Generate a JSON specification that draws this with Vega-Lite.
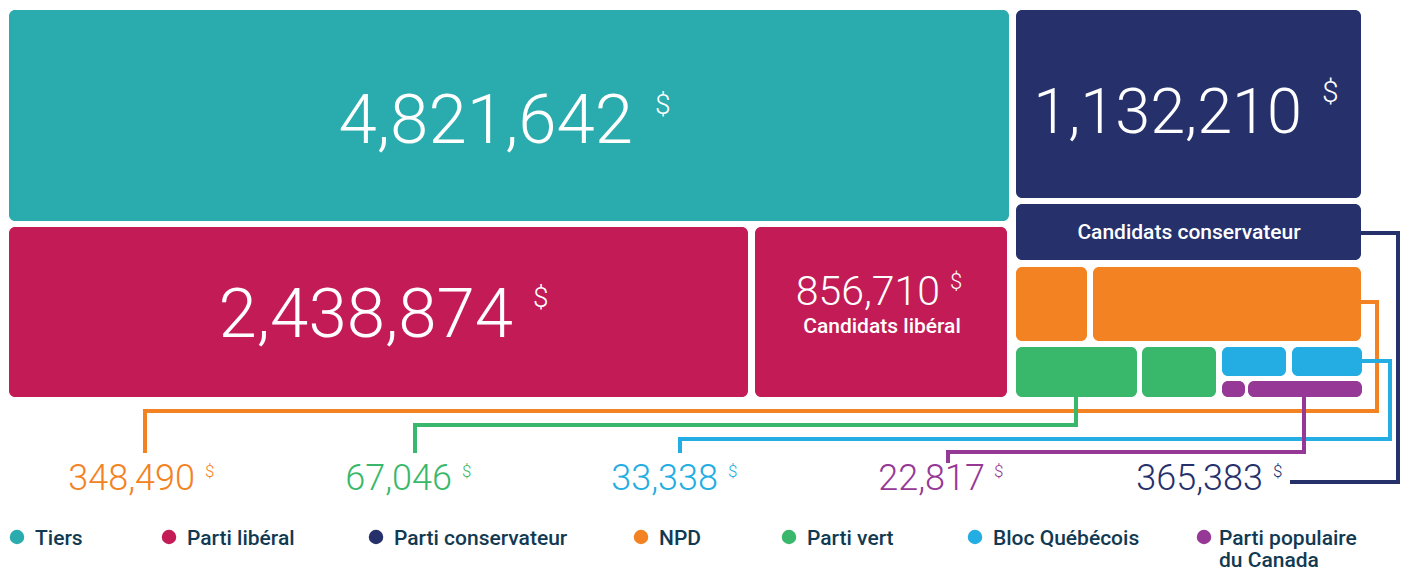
{
  "$schema": "https://vega.github.io/schema/vega-lite/v6.json",
  "width": 1410,
  "height": 570,
  "autosize": "none",
  "padding": 0,
  "background": "white",
  "config": {"view": {"stroke": null}, "axis": null},
  "datasets": {
    "boxes": [
      {"party": "Tiers", "x": 9, "x2": 1009, "y": 10, "y2": 221},
      {"party": "Parti libéral", "x": 9, "x2": 748, "y": 227, "y2": 397},
      {"party": "Parti libéral", "x": 755, "x2": 1007, "y": 227, "y2": 397},
      {"party": "Parti conservateur", "x": 1016, "x2": 1361, "y": 10, "y2": 198},
      {"party": "Parti conservateur", "x": 1016, "x2": 1361, "y": 204, "y2": 260},
      {"party": "NPD", "x": 1016, "x2": 1087, "y": 267, "y2": 341},
      {"party": "NPD", "x": 1093, "x2": 1361, "y": 267, "y2": 341},
      {"party": "Parti vert", "x": 1016, "x2": 1137, "y": 347, "y2": 397},
      {"party": "Parti vert", "x": 1142, "x2": 1216, "y": 347, "y2": 397},
      {"party": "Bloc Québécois", "x": 1222, "x2": 1286, "y": 347, "y2": 376},
      {"party": "Bloc Québécois", "x": 1292, "x2": 1362, "y": 347, "y2": 376},
      {"party": "Parti populaire du Canada", "x": 1222, "x2": 1245, "y": 381, "y2": 397},
      {"party": "Parti populaire du Canada", "x": 1248, "x2": 1362, "y": 381, "y2": 397}
    ],
    "links": [
      {"party": "Parti conservateur", "i": 1, "x": 1361, "y": 233},
      {"party": "Parti conservateur", "i": 2, "x": 1398, "y": 233},
      {"party": "Parti conservateur", "i": 3, "x": 1398, "y": 482},
      {"party": "Parti conservateur", "i": 4, "x": 1290, "y": 482},
      {"party": "NPD", "i": 1, "x": 1361, "y": 302},
      {"party": "NPD", "i": 2, "x": 1377, "y": 302},
      {"party": "NPD", "i": 3, "x": 1377, "y": 411},
      {"party": "NPD", "i": 4, "x": 145, "y": 411},
      {"party": "NPD", "i": 5, "x": 145, "y": 453},
      {"party": "Parti vert", "i": 1, "x": 1076, "y": 397},
      {"party": "Parti vert", "i": 2, "x": 1076, "y": 425},
      {"party": "Parti vert", "i": 3, "x": 415, "y": 425},
      {"party": "Parti vert", "i": 4, "x": 415, "y": 453},
      {"party": "Bloc Québécois", "i": 1, "x": 1362, "y": 361},
      {"party": "Bloc Québécois", "i": 2, "x": 1390, "y": 361},
      {"party": "Bloc Québécois", "i": 3, "x": 1390, "y": 439},
      {"party": "Bloc Québécois", "i": 4, "x": 680, "y": 439},
      {"party": "Bloc Québécois", "i": 5, "x": 680, "y": 453},
      {"party": "Parti populaire du Canada", "i": 1, "x": 1304, "y": 397},
      {"party": "Parti populaire du Canada", "i": 2, "x": 1304, "y": 452},
      {"party": "Parti populaire du Canada", "i": 3, "x": 948, "y": 452},
      {"party": "Parti populaire du Canada", "i": 4, "x": 948, "y": 463}
    ],
    "amounts": [
      {"montant": "4,821,642", "party": "Tiers", "tier": "grand", "x": 633, "y": 143, "xd": 655, "yd": 92},
      {"montant": "2,438,874", "party": "Parti libéral", "tier": "grand", "x": 513, "y": 337, "xd": 533, "yd": 285},
      {"montant": "1,132,210", "party": "Parti conservateur", "tier": "grand étroit", "x": 1302, "y": 133, "xd": 1322, "yd": 78},
      {"montant": "856,710", "party": "Parti libéral", "tier": "moyen", "x": 940, "y": 305, "xd": 950, "yd": 272},
      {"montant": "348,490", "party": "NPD", "tier": "petit", "x": 195, "y": 490, "xd": 205, "yd": 464},
      {"montant": "67,046", "party": "Parti vert", "tier": "petit", "x": 452, "y": 490, "xd": 462, "yd": 464},
      {"montant": "33,338", "party": "Bloc Québécois", "tier": "petit", "x": 718, "y": 490, "xd": 728, "yd": 464},
      {"montant": "22,817", "party": "Parti populaire du Canada", "tier": "petit", "x": 985, "y": 490, "xd": 994, "yd": 464},
      {"montant": "365,383", "party": "Parti conservateur", "tier": "petit", "x": 1263, "y": 490, "xd": 1273, "yd": 464}
    ],
    "names": [
      {"nom": "Candidats libéral", "x": 882, "y": 327},
      {"nom": "Candidats conservateur", "x": 1189, "y": 233}
    ],
    "legend": [
      {"party": "Tiers", "label": "Tiers", "xp": 17, "xt": 35},
      {"party": "Parti libéral", "label": "Parti libéral", "xp": 169, "xt": 187},
      {"party": "Parti conservateur", "label": "Parti conservateur", "xp": 376, "xt": 394},
      {"party": "NPD", "label": "NPD", "xp": 641, "xt": 659},
      {"party": "Parti vert", "label": "Parti vert", "xp": 789, "xt": 807},
      {"party": "Bloc Québécois", "label": "Bloc Québécois", "xp": 975, "xt": 993},
      {"party": "Parti populaire du Canada", "label": "Parti populaire\ndu Canada", "xp": 1204, "xt": 1219}
    ]
  },
  "resolve": {"scale": {"size": "independent"}},
  "layer": [
    {
      "data": {"name": "links"},
      "mark": {"type": "line", "strokeWidth": 4, "strokeJoin": "miter", "strokeCap": "butt", "interpolate": "linear"},
      "encoding": {
        "x": {"field": "x", "type": "quantitative", "scale": {"domain": [0, 1410], "nice": false, "zero": false}, "axis": null},
        "y": {"field": "y", "type": "quantitative", "scale": {"domain": [0, 570], "nice": false, "zero": false, "reverse": true}, "axis": null},
        "order": {"field": "i", "type": "quantitative"},
        "detail": {"field": "party"},
        "color": {"field": "party", "type": "nominal", "legend": null,
          "scale": {"domain": ["Tiers", "Parti libéral", "Parti conservateur", "NPD", "Parti vert", "Bloc Québécois", "Parti populaire du Canada"],
                    "range": ["#2aabad", "#c21b56", "#26306b", "#f38223", "#39b86b", "#23ade3", "#963895"]}}
      }
    },
    {
      "data": {"name": "boxes"},
      "mark": {"type": "rect", "cornerRadius": 6},
      "encoding": {
        "x": {"field": "x", "type": "quantitative"},
        "x2": {"field": "x2"},
        "y": {"field": "y", "type": "quantitative"},
        "y2": {"field": "y2"},
        "color": {"field": "party", "type": "nominal", "legend": null}
      }
    },
    {
      "data": {"name": "amounts"},
      "mark": {"type": "text", "font": "Roboto", "fontWeight": 300, "align": "right", "baseline": "alphabetic"},
      "encoding": {
        "x": {"field": "x", "type": "quantitative"},
        "y": {"field": "y", "type": "quantitative"},
        "text": {"field": "montant"},
        "size": {"field": "tier", "type": "nominal", "legend": null,
          "scale": {"type": "ordinal", "domain": ["grand", "grand étroit", "moyen", "petit"], "range": [69, 63, 41, 36]}},
        "color": {"condition": {"test": "datum.tier !== 'petit'", "value": "#ffffff"}, "field": "party", "type": "nominal", "legend": null}
      }
    },
    {
      "data": {"name": "amounts"},
      "mark": {"type": "text", "font": "Roboto", "fontWeight": 300, "align": "left", "baseline": "top", "text": "$"},
      "encoding": {
        "x": {"field": "xd", "type": "quantitative"},
        "y": {"field": "yd", "type": "quantitative"},
        "size": {"field": "tier", "type": "nominal", "legend": null,
          "scale": {"type": "ordinal", "domain": ["grand", "grand étroit", "moyen", "petit"], "range": [28, 30, 22, 17]}},
        "color": {"condition": {"test": "datum.tier !== 'petit'", "value": "#ffffff"}, "field": "party", "type": "nominal", "legend": null}
      }
    },
    {
      "data": {"name": "names"},
      "mark": {"type": "text", "font": "Roboto", "fontWeight": 500, "fontSize": 21, "align": "center", "baseline": "middle", "color": "#ffffff"},
      "encoding": {
        "x": {"field": "x", "type": "quantitative"},
        "y": {"field": "y", "type": "quantitative"},
        "text": {"field": "nom"}
      }
    },
    {
      "data": {"name": "legend"},
      "transform": [{"calculate": "537", "as": "ly"}],
      "mark": {"type": "circle", "size": 210, "opacity": 1},
      "encoding": {
        "x": {"field": "xp", "type": "quantitative"},
        "y": {"field": "ly", "type": "quantitative"},
        "color": {"field": "party", "type": "nominal", "legend": null}
      }
    },
    {
      "data": {"name": "legend"},
      "transform": [{"calculate": "545", "as": "ly"}],
      "mark": {"type": "text", "font": "Roboto", "fontWeight": 500, "fontSize": 21, "align": "left", "baseline": "alphabetic", "lineBreak": "\n", "lineHeight": 22, "color": "#113a52"},
      "encoding": {
        "x": {"field": "xt", "type": "quantitative"},
        "y": {"field": "ly", "type": "quantitative"},
        "text": {"field": "label"}
      }
    }
  ]
}
